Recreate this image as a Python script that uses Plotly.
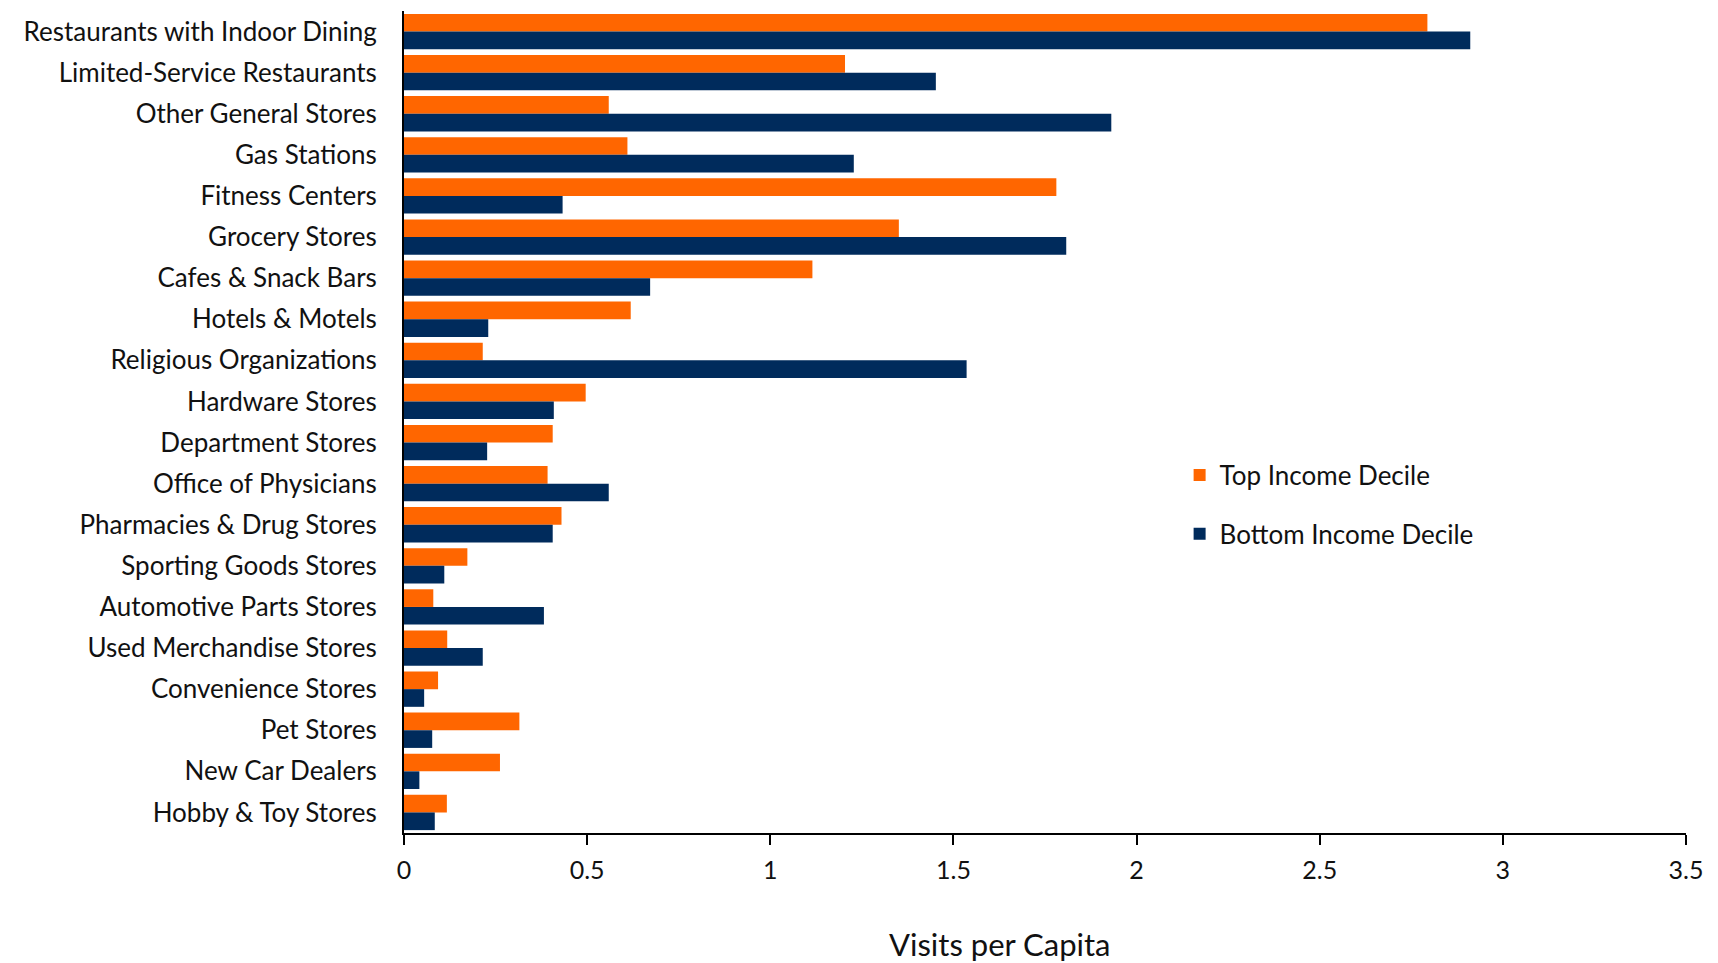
import plotly.graph_objects as go

categories = [
    "Restaurants with Indoor Dining",
    "Limited-Service Restaurants",
    "Other General Stores",
    "Gas Stations",
    "Fitness Centers",
    "Grocery Stores",
    "Cafes & Snack Bars",
    "Hotels & Motels",
    "Religious Organizations",
    "Hardware Stores",
    "Department Stores",
    "Office of Physicians",
    "Pharmacies & Drug Stores",
    "Sporting Goods Stores",
    "Automotive Parts Stores",
    "Used Merchandise Stores",
    "Convenience Stores",
    "Pet Stores",
    "New Car Dealers",
    "Hobby & Toy Stores",
]

top_decile = [2.794, 1.204, 0.559, 0.610, 1.781, 1.351, 1.115, 0.619, 0.215, 0.496,
              0.406, 0.392, 0.430, 0.173, 0.080, 0.118, 0.093, 0.315, 0.262, 0.117]
bottom_decile = [2.911, 1.452, 1.931, 1.228, 0.433, 1.808, 0.672, 0.230, 1.536, 0.409,
                 0.227, 0.559, 0.406, 0.110, 0.382, 0.215, 0.055, 0.077, 0.042, 0.084]

x_ticks = [0, 0.5, 1, 1.5, 2, 2.5, 3, 3.5]
x_tick_text = ["0", "0.5", "1", "1.5", "2", "2.5", "3", "3.5"]

ORANGE = "#FF6600"
NAVY = "#002B5C"
FONT = "Lato"
TEXT = "#111111"

fig = go.Figure()
fig.add_trace(go.Bar(
    y=categories, x=top_decile, orientation="h", name="Top Income Decile",
    marker=dict(color=ORANGE, line=dict(width=0)), legendgroup="top",
))
fig.add_trace(go.Bar(
    y=categories, x=bottom_decile, orientation="h", name="Bottom Income Decile",
    marker=dict(color=NAVY, line=dict(width=0)), legendgroup="bottom",
))

fig.update_layout(
    width=1718, height=963,
    margin=dict(l=404, r=32, t=11, b=130),
    paper_bgcolor="white", plot_bgcolor="white",
    barmode="group", bargap=0.14, bargroupgap=0,
    font=dict(family=FONT, size=26, color=TEXT),
    showlegend=True,
    legend=dict(
        x=0.605, y=0.464, xanchor="left", yanchor="top",
        font=dict(family=FONT, size=26, color=TEXT),
        tracegroupgap=22, bgcolor="rgba(0,0,0,0)",
    ),
    annotations=[dict(
        text="Visits per Capita", xref="paper", yref="paper",
        x=0.465, y=-0.135, xanchor="center", yanchor="middle",
        showarrow=False, font=dict(family=FONT, size=31, color=TEXT),
    )],
)

fig.update_xaxes(
    range=[0, 3.5], tickvals=x_ticks, ticktext=x_tick_text,
    showgrid=False, zeroline=False,
    showline=True, linecolor="black", linewidth=2,
    ticks="outside", ticklen=10, tickcolor="black", tickwidth=1.5,
    ticklabelstandoff=4,
    tickfont=dict(family=FONT, size=25, color=TEXT),
)
fig.update_yaxes(
    categoryorder="array", categoryarray=categories, autorange="reversed",
    showgrid=False, zeroline=False,
    showline=True, linecolor="black", linewidth=2,
    ticks="", ticklabelstandoff=20,
    tickfont=dict(family=FONT, size=26, color=TEXT),
)

fig.write_html("out.html")
